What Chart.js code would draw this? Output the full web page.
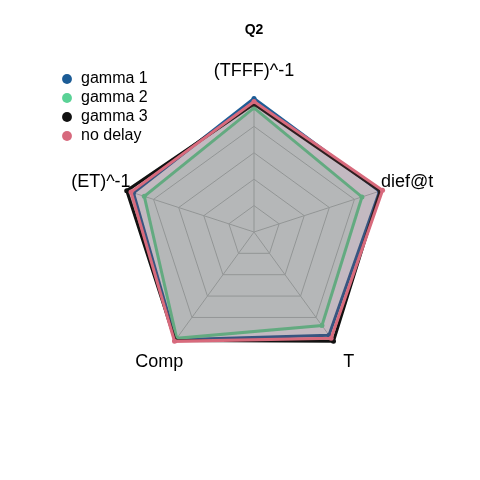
<!DOCTYPE html>
<html>
<head>
<meta charset="utf-8">
<script src="https://cdn.jsdelivr.net/npm/chart.js@4.4.1/dist/chart.umd.min.js"></script>
<style>
  html, body { margin: 0; padding: 0; background: #ffffff; }
  #wrap { width: 480px; height: 480px; }
</style>
</head>
<body>
<div id="wrap"><canvas id="c" width="480" height="480"></canvas></div>
<script>
const categories = ['(TFFF)^-1', 'dief@t', 'T', 'Comp', '(ET)^-1'];
const seriesNames = ['gamma 1', 'gamma 2', 'gamma 3', 'no delay'];
const gamma1  = [5.06, 5.00, 4.83, 5.05, 4.80];
const gamma2  = [4.70, 4.30, 4.38, 4.98, 4.37];
const gamma3  = [4.85, 5.03, 5.12, 5.08, 5.07];
const noDelay = [4.94, 5.12, 4.97, 5.12, 4.90];
const scaleMin = 0;
const scaleMax = 5;
const scaleStep = 1;

const lineColors  = ['#1f5d96', '#5ad296', '#111111', '#d86a7c'];
const pointColors = ['#1c5c96', '#5ad296', '#111111', '#d7697d'];
const fillColors  = ['rgba(31,93,150,0.15)', 'rgba(90,210,150,0.15)', 'rgba(17,17,17,0.15)', 'rgba(216,106,124,0.15)'];
const drawOrder   = [4, 3, 2, 1];
const seriesValues = [gamma1, gamma2, gamma3, noDelay];

const FONT = '"Liberation Sans", Arial, sans-serif';

const axisLabelPlugin = {
  id: 'axisLabels',
  afterDraw(chart) {
    const scale = chart.scales.r;
    const ctx = chart.ctx;
    ctx.save();
    ctx.font = '18px ' + FONT;
    ctx.fillStyle = '#000000';
    ctx.textAlign = 'center';
    ctx.textBaseline = 'middle';
    chart.data.labels.forEach((lab, i) => {
      const p = scale.getPointPosition(i, scale.drawingArea + 29);
      ctx.fillText(lab, p.x, p.y);
    });
    ctx.restore();
  }
};

new Chart(document.getElementById('c'), {
  type: 'radar',
  data: {
    labels: categories,
    datasets: seriesNames.map((name, i) => ({
      label: name,
      data: seriesValues[i],
      borderColor: lineColors[i],
      backgroundColor: fillColors[i],
      pointBackgroundColor: pointColors[i],
      pointBorderColor: pointColors[i],
      pointRadius: 2.5,
      pointBorderWidth: 0,
      borderWidth: 3,
      fill: true,
      order: drawOrder[i]
    }))
  },
  options: {
    responsive: false,
    animation: false,
    layout: { padding: { left: 58, right: 30, top: 0, bottom: 82 } },
    plugins: {
      tooltip: { enabled: false },
      title: {
        display: true,
        text: 'Q2',
        color: '#000000',
        font: { family: FONT, size: 14, weight: 'bold', lineHeight: 1.2 },
        padding: { top: 21.6, bottom: 27.6 }
      },
      legend: {
        display: true,
        position: 'chartArea',
        align: 'start',
        title: {
          display: true,
          text: '',
          font: { family: FONT, size: 10, lineHeight: 1 },
          padding: { top: 58, bottom: 0 }
        },
        labels: {
          usePointStyle: true,
          pointStyle: 'circle',
          boxWidth: 12,
          boxHeight: 7,
          padding: 3,
          color: '#000000',
          font: { family: FONT, size: 16 },
          sort: (a, b) => a.datasetIndex - b.datasetIndex
        }
      }
    },
    scales: {
      r: {
        min: scaleMin,
        max: scaleMax,
        beginAtZero: true,
        ticks: {
          stepSize: scaleStep,
          display: true,
          showLabelBackdrop: false,
          font: { size: 12 },
          backdropPadding: { top: 28, bottom: 28, left: 0, right: 0 },
          callback: () => ''
        },
        grid: { color: '#bebebe', lineWidth: 1 },
        angleLines: { color: '#bebebe', lineWidth: 1 },
        pointLabels: { display: false }
      }
    }
  },
  plugins: [axisLabelPlugin]
});
</script>
</body>
</html>
